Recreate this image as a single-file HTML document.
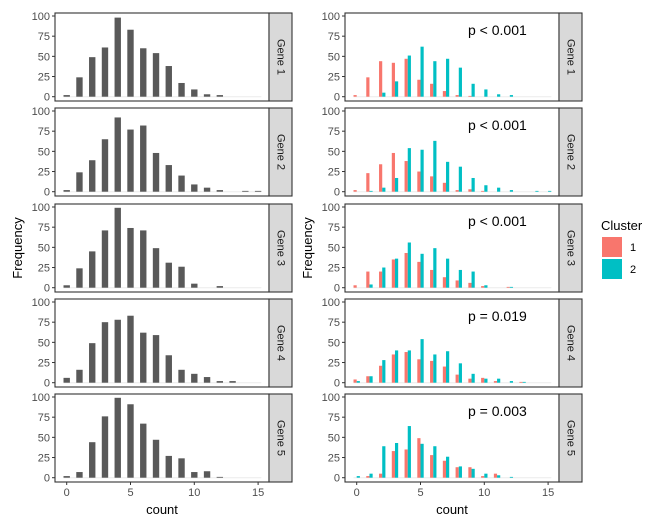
<!DOCTYPE html>
<html><head><meta charset="utf-8"><style>
html,body{margin:0;padding:0;background:#fff;}
svg{display:block;font-family:"Liberation Sans",Arial,sans-serif;}
</style></head><body>
<svg id="chart" width="664" height="528" viewBox="0 0 664 528"></svg>
<script>
const counts=[0,1,2,3,4,5,6,7,8,9,10,11,12,13,14,15];
const genes=["Gene 1","Gene 2","Gene 3","Gene 4","Gene 5"];
const pLabels=["p < 0.001","p < 0.001","p < 0.001","p = 0.019","p = 0.003"];
const totalG1=[2,24,49,61,98,83,60,54,38,17,9,3,2,0,0,0];
const totalG2=[2,24,39,65,92,77,82,48,33,20,9,5,2,0,1,1];
const totalG3=[3,24,45,71,99,74,71,49,31,26,5,0,2,0,0,0];
const totalG4=[6,16,49,75,78,83,62,59,34,16,11,7,2,2,0,0];
const totalG5=[2,7,44,76,99,91,67,47,27,24,7,8,1,0,0,0];
const c1G1=[2,24,44,42,47,21,16,7,2,1,0,0,0,0,0,0];
const c2G1=[0,0,5,19,51,62,44,47,36,16,9,3,2,0,0,0];
const c1G2=[2,23,34,48,38,25,19,11,2,3,1,0,0,0,0,0];
const c2G2=[0,1,5,17,54,52,63,37,31,17,8,5,2,0,1,1];
const c1G3=[3,20,20,35,43,32,22,13,9,6,2,0,1,0,0,0];
const c2G3=[0,4,25,36,56,42,49,36,22,20,3,0,1,0,0,0];
const c1G4=[4,8,21,35,38,29,27,20,10,5,6,2,0,1,0,0];
const c2G4=[2,8,28,40,40,54,35,39,24,11,5,5,2,1,0,0];
const c1G5=[0,2,5,33,35,49,28,21,13,13,2,5,0,0,0,0];
const c2G5=[2,5,39,43,64,42,39,26,14,11,5,3,1,0,0,0];
const yTicks=[0,25,50,75,100];
const xTicks=[0,5,10,15];

const totals=[totalG1,totalG2,totalG3,totalG4,totalG5];
const c1=[c1G1,c1G2,c1G3,c1G4,c1G5];
const c2=[c2G1,c2G2,c2G3,c2G4,c2G5];
const NS="http://www.w3.org/2000/svg";
const svg=document.getElementById('chart');
function mk(tag,attrs,parent){const e=document.createElementNS(NS,tag);for(const k in attrs)e.setAttribute(k,attrs[k]);(parent||svg).appendChild(e);return e;}
const panelTops=[13,108,204,299,394];
const panelH=88;
function yScale(top){return v=>top+panelH-4.3-v*0.807;}
const cols=[{x0:55,x1:269,zero:66.7,mode:'total'},{x0:345,x1:559,zero:356.7,mode:'cluster'}];
const ux=12.76;
cols.forEach((col,ci)=>{
  const xs=v=>col.zero+v*ux;
  for(let g=0;g<5;g++){
    const top=panelTops[g];const ys=yScale(top);
    const grp=mk('g',{});
    
    
    mk('rect',{x:col.x0,y:top,width:col.x1-col.x0,height:panelH,fill:'#fff'},grp);
    mk('line',{x1:xs(-0.25),x2:xs(15.25),y1:ys(0),y2:ys(0),stroke:'#ebebeb','stroke-width':1},grp);
    if(col.mode==='total'){
      counts.forEach((c,i)=>{const v=totals[g][i];if(v<=0)return;
        const r=mk('rect',{x:xs(c-0.25),y:ys(v),width:0.5*ux,height:ys(0)-ys(v),fill:'#595959'},grp);
        
        });
    }else{
      counts.forEach((c,i)=>{
        const a=c1[g][i],b=c2[g][i];
        if(a>0){const r=mk('rect',{x:xs(c-0.25),y:ys(a),width:0.25*ux,height:ys(0)-ys(a),fill:'#F8766D'},grp);
          
          }
        if(b>0){const r=mk('rect',{x:xs(c),y:ys(b),width:0.25*ux,height:ys(0)-ys(b),fill:'#00BFC4'},grp);
          
          }
      });
      const t=mk('text',{x:468,y:top+22,'font-size':14,fill:'#000'},grp);t.textContent=pLabels[g];
      
      
    }
    mk('rect',{x:col.x0,y:top,width:col.x1-col.x0,height:panelH,fill:'none',stroke:'#333','stroke-width':1.1},grp);
    yTicks.forEach(v=>{mk('line',{x1:col.x0-3,x2:col.x0,y1:ys(v),y2:ys(v),stroke:'#333'},grp);
      const t=mk('text',{x:col.x0-5,y:ys(v)+4,'font-size':11,fill:'#4d4d4d','text-anchor':'end'},grp);t.textContent=v;});
    const st=mk('rect',{x:col.x1,y:top,width:23,height:panelH,fill:'#d9d9d9',stroke:'#333','stroke-width':1.1},grp);
    
    
    const cx=col.x1+11.5,cy=top+panelH/2;
    const lt=mk('text',{x:cx,y:cy,'font-size':11,fill:'#1a1a1a','text-anchor':'middle','dominant-baseline':'central',transform:`rotate(90 ${cx} ${cy})`},grp);lt.textContent=genes[g];
  }
  const bottom=panelTops[4]+panelH;
  xTicks.forEach(v=>{mk('line',{x1:xs(v),x2:xs(v),y1:bottom,y2:bottom+3,stroke:'#333'});
    const t=mk('text',{x:xs(v),y:bottom+14,'font-size':11,fill:'#4d4d4d','text-anchor':'middle'});t.textContent=v;});
  const xt=mk('text',{x:(col.x0+col.x1)/2,y:514,'font-size':13,fill:'#000','text-anchor':'middle'});xt.textContent='count';
  
  
  const yx=col.x0-33,yy=248;
  const yt=mk('text',{x:yx,y:yy,'font-size':13,fill:'#000','text-anchor':'middle',transform:`rotate(-90 ${yx} ${yy})`});yt.textContent='Frequency';
  
  
});
const lg=mk('g',{});


const lt=mk('text',{x:601,y:230,'font-size':13,fill:'#000'},lg);lt.textContent='Cluster';
[['1','#F8766D',237],['2','#00BFC4',259]].forEach(([l,c,y])=>{
  const r=mk('rect',{x:602,y:y,width:20,height:20,fill:c},lg);
  
  
  const t=mk('text',{x:630,y:y+14,'font-size':11,fill:'#000'},lg);t.textContent=l;});
</script>
</body></html>
